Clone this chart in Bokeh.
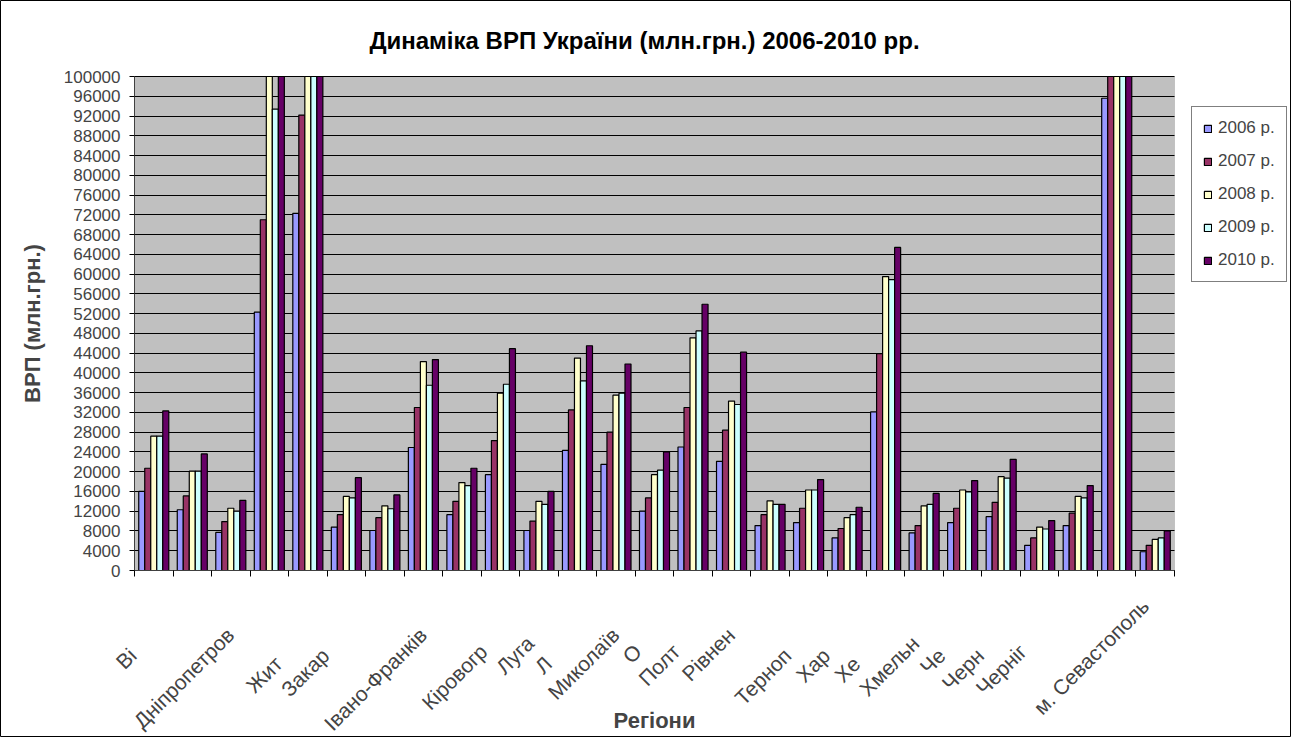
import math
from bokeh.plotting import figure
from bokeh.models import (ColumnDataSource, Range1d, FixedTicker, NumeralTickFormatter,
                          Legend, LegendItem, BoxAnnotation, Label)
from bokeh.embed import file_html
from bokeh.resources import INLINE

regions = ["АР Крим", "Вінницька", "Волинська", "Дніпропетровська", "Донецька", "Житомирська",
           "Закарпатська", "Запорізька", "Івано-Франківська", "Київська", "Кіровоградська",
           "Луганська", "Львівська", "Миколаївська", "Одеська", "Полтавська", "Рівненська",
           "Сумська", "Тернопільська", "Харківська", "Херсонська", "Хмельницька", "Черкаська",
           "Чернівецька", "Чернігівська", "м. Київ", "м. Севастополь"]

# visible (clipped) parts of the category labels, as in the picture
tick_labels = ["", "Ві", "", "Дніпропетров", "", "Жит", "Закар", "", "Івано-Франків", "",
               "Кіровогр", "Луга", "Л", "Миколаїв", "О", "Полт", "Рівнен", "", "Терноп",
               "Хар", "Хе", "Хмельн", "Че", "Черн", "Черніг", "", "м. Севастополь"]

years = ["2006 р.", "2007 р.", "2008 р.", "2009 р.", "2010 р."]

vrp_2006 = [16000, 12300, 7700, 52300, 72300, 8800, 8100, 24900, 11300, 19400, 8100, 24300, 21500,
            12000, 25000, 22100, 9100, 9700, 6600, 32100, 7600, 9700, 10900, 5100, 9100, 95600, 3800]
vrp_2007 = [20700, 15100, 9900, 71000, 92200, 11300, 10700, 33000, 14000, 26300, 10000, 32500, 28000,
            14700, 33000, 28400, 11300, 12600, 8500, 43900, 9100, 12600, 13800, 6600, 11600, 120000, 5100]
vrp_2008 = [27200, 20100, 12600, 112000, 118000, 15000, 13100, 42300, 17800, 35900, 14000, 43000, 35500,
            19400, 47100, 34300, 14100, 16300, 10700, 59500, 13100, 16300, 19000, 8800, 15000, 170000, 6300]
vrp_2009 = [27200, 20100, 12000, 93400, 103000, 14700, 12500, 37500, 17200, 37700, 13400, 38400, 35900,
            20300, 48500, 33600, 13400, 16300, 11300, 58900, 13400, 15900, 18700, 8400, 14700, 165000, 6600]
vrp_2010 = [32300, 23600, 14200, 120000, 125000, 18800, 15300, 42700, 20700, 44900, 16000, 45500, 41800,
            24000, 53900, 44200, 13400, 18400, 12800, 65400, 15600, 18200, 22500, 10100, 17200, 190000, 8000]

series = [vrp_2006, vrp_2007, vrp_2008, vrp_2009, vrp_2010]
colors = ["#9999FF", "#993366", "#FFFFCC", "#CCFFFF", "#660066"]

FONT = "Liberation Sans"
n = len(regions)
YMAX = 100000

# ---- layout (pixels on the 1291x737 canvas) ----
W, H = 1291, 737
PL, PR, PT, PB = 134, 1174, 76, 570          # plot area edges
px_x = n / (PR - PL)                          # data units per pixel
px_y = YMAX / (PB - PT)

p = figure(width=W, height=H, output_backend="svg", toolbar_location=None,
           x_range=Range1d(-PL * px_x, n + (W - PR) * px_x),
           y_range=Range1d(-(H - PB) * px_y, YMAX + PT * px_y),
           min_border=0)

p.background_fill_color = "white"
p.border_fill_color = "white"
p.outline_line_color = "black"
p.outline_line_width = 1

# plot area
p.add_layout(BoxAnnotation(left=0, right=n, bottom=0, top=YMAX, fill_color="#C0C0C0",
                           fill_alpha=1, line_color="#808080", line_width=1, level="image"))

bw = 0.156
renderers = []
for j, (vals, col) in enumerate(zip(series, colors)):
    src = ColumnDataSource(dict(x=[i + 0.5 + (j - 2) * bw for i in range(n)],
                                top=[min(v, YMAX) for v in vals]))
    r = p.vbar(x="x", top="top", width=bw, source=src, fill_color=col,
               line_color="black", line_width=1.2)
    renderers.append(r)

# y axis
yt = FixedTicker(ticks=list(range(0, YMAX + 1, 4000)))
p.yaxis.fixed_location = 0
p.yaxis.bounds = (0, YMAX)
p.yaxis.ticker = yt
p.yaxis.formatter = NumeralTickFormatter(format="0")
p.yaxis.major_label_text_font = FONT
p.yaxis.major_label_text_font_size = "17px"
p.yaxis.major_label_standoff = 9
p.yaxis.major_tick_out = 5
p.yaxis.major_tick_in = 0
p.yaxis.minor_tick_out = 0
p.yaxis.minor_tick_in = 0
p.yaxis.axis_line_color = "#404040"
p.yaxis.axis_label = "ВРП (млн.грн.)"
p.yaxis.axis_label_text_font = FONT
p.yaxis.axis_label_text_font_size = "22px"
p.yaxis.axis_label_text_font_style = "bold"
p.yaxis.axis_label_standoff = 16

p.ygrid.ticker = yt
p.ygrid.bounds = (0, YMAX)
p.ygrid.cross_bounds = (0, n)
p.ygrid.grid_line_color = "black"
p.ygrid.grid_line_width = 1
p.xgrid.visible = False

# x axis: labels near category centres, tick marks at category boundaries.
# Each visible (clipped) label is padded so that it starts where the full name would start.
LABEL_PX = 21
CH = 10.4                      # pitch of one character of the full labels
NBSP_W = 0.278 * LABEL_PX      # width of a no-break space
LABEL_SHIFT = 10 * px_x        # label ends sit a little left of the centre
overrides = {}
label_ticks = []
for i, (full, frag) in enumerate(zip(regions, tick_labels)):
    t = i + 0.5 - LABEL_SHIFT
    label_ticks.append(t)
    if frag:
        hidden = len(full) - len(frag)
        overrides[t] = frag + "\u00a0" * int(round(hidden * CH / NBSP_W))
    else:
        overrides[t] = ""
p.xaxis.fixed_location = 0
p.xaxis.bounds = (0, n)
p.xaxis.ticker = FixedTicker(ticks=label_ticks, minor_ticks=list(range(0, n + 1)))
p.xaxis.major_label_overrides = overrides
p.xaxis.major_label_orientation = math.pi / 4
p.xaxis.major_label_text_font = FONT
p.xaxis.major_label_text_font_size = f"{LABEL_PX}px"
p.xaxis.major_label_standoff = 26
p.xaxis.major_tick_out = 0
p.xaxis.major_tick_in = 0
p.xaxis.minor_tick_out = 6
p.xaxis.minor_tick_in = 0
p.xaxis.minor_tick_line_color = "black"
p.xaxis.axis_line_color = "#404040"
p.xaxis.axis_label = "Регіони"
p.xaxis.axis_label_text_font = FONT
p.xaxis.axis_label_text_font_size = "22px"
p.xaxis.axis_label_text_font_style = "bold"
p.xaxis.axis_label_standoff = -38

# title
p.add_layout(Label(x=644, y=H - 40, x_units="screen", y_units="screen",
                   text="Динаміка ВРП України (млн.грн.) 2006-2010 рр.",
                   text_align="center", text_baseline="middle", text_font=FONT,
                   text_font_size="24px", text_font_style="bold", text_color="black"))

legend = Legend(items=[LegendItem(label=y, renderers=[r]) for y, r in zip(years, renderers)],
                location=(1191, H - 282))
legend.label_text_font = FONT
legend.label_text_font_size = "17px"
legend.glyph_width = 9
legend.glyph_height = 9
legend.label_height = 20
legend.label_standoff = 6
legend.spacing = 13
legend.padding = 11
legend.margin = 0
legend.border_line_color = "black"
legend.border_line_width = 1
legend.background_fill_color = "white"
legend.background_fill_alpha = 1
p.add_layout(legend)

open("out.html", "w").write(file_html(p, INLINE))
